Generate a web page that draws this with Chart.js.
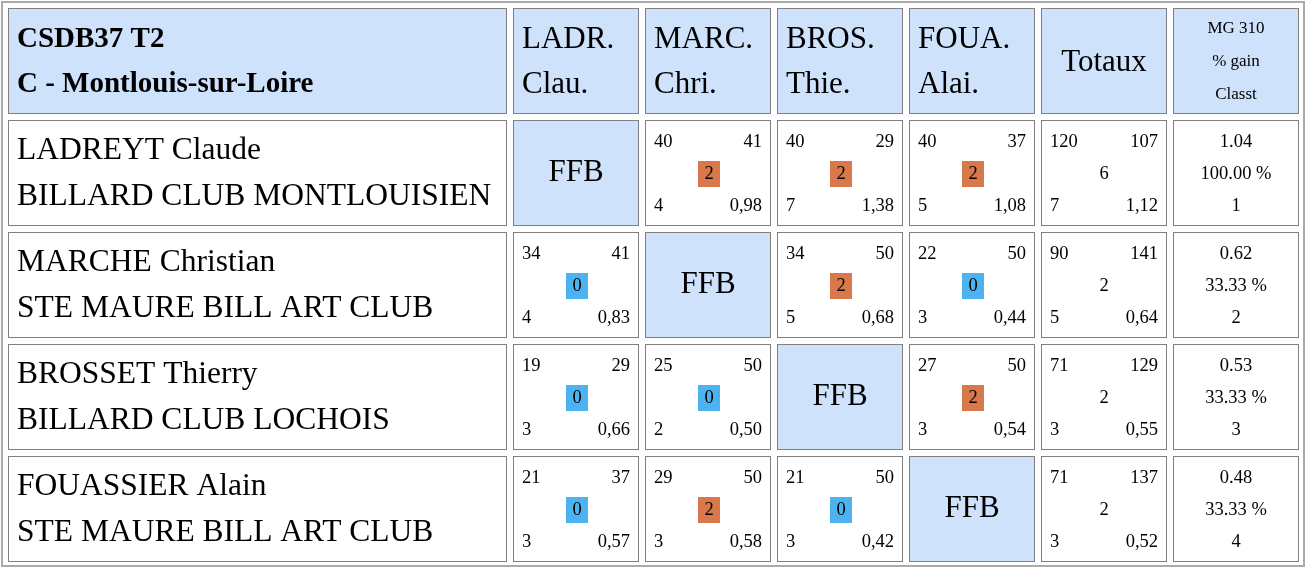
<!DOCTYPE html>
<html>
<head>
<meta charset="utf-8">
<script src="https://cdn.jsdelivr.net/npm/chart.js@4/dist/chart.umd.min.js"></script>
<style>
  body { margin: 0; background: #fff; }
  canvas { display: block; }
</style>
</head>
<body>
<canvas id="c" width="1306" height="570"></canvas>
<script>
const title = ['CSDB37 T2', 'C - Montlouis-sur-Loire'];
const colHeads = [['LADR.', 'Clau.'], ['MARC.', 'Chri.'], ['BROS.', 'Thie.'], ['FOUA.', 'Alai.']];
const players = ['LADREYT Claude', 'MARCHE Christian', 'BROSSET Thierry', 'FOUASSIER Alain'];
const clubs = ['BILLARD CLUB MONTLOUISIEN', 'STE MAURE BILL ART CLUB', 'BILLARD CLUB LOCHOIS', 'STE MAURE BILL ART CLUB'];
// [points, distance, reprises, moyenne, points match]; null = FFB
const results = [
  [null, [40, 41, 4, '0,98', 2], [40, 29, 7, '1,38', 2], [40, 37, 5, '1,08', 2]],
  [[34, 41, 4, '0,83', 0], null, [34, 50, 5, '0,68', 2], [22, 50, 3, '0,44', 0]],
  [[19, 29, 3, '0,66', 0], [25, 50, 2, '0,50', 0], null, [27, 50, 3, '0,54', 2]],
  [[21, 37, 3, '0,57', 0], [29, 50, 3, '0,58', 2], [21, 50, 3, '0,42', 0], null]
];
const totals = [[120, 107, 6, 7, '1,12'], [90, 141, 2, 5, '0,64'], [71, 129, 2, 3, '0,55'], [71, 137, 2, 3, '0,52']];
const mg = ['1.04', '0.62', '0.53', '0.48'];
const gain = ['100.00 %', '33.33 %', '33.33 %', '33.33 %'];
const rank = ['1', '2', '3', '4'];

const colEdges = [8, 513, 645, 777, 909, 1041, 1173];
const colW = [499, 126, 126, 126, 126, 126, 126];
const rowTop = [8, 120, 232, 344, 456];
const rowH = 106;
const HEAD = '#cfe2fb';
const SERIF = '"Liberation Serif", "DejaVu Serif", serif';
const BIG = 31, SMALL = 18.5;

const tablePlugin = {
  id: 'table',
  afterDraw(chart) {
    const ctx = chart.ctx;
    const sx = chart.scales.x, sy = chart.scales.y;
    const X = v => sx.getPixelForValue(v);
    const Y = v => sy.getPixelForValue(v);
    ctx.save();
    ctx.strokeStyle = '#aaa';
    ctx.lineWidth = 2;
    ctx.strokeRect(X(2), Y(2), X(1304) - X(2), Y(566) - Y(2));

    function cell(c, r, bg) {
      const x = X(colEdges[c]), y = Y(rowTop[r]);
      const w = X(colEdges[c] + colW[c]) - x, h = Y(rowTop[r] + rowH) - y;
      ctx.fillStyle = bg;
      ctx.fillRect(x, y, w, h);
      ctx.lineWidth = 1;
      ctx.strokeStyle = '#808080';
      ctx.strokeRect(x + 0.5, y + 0.5, w - 1, h - 1);
      return { x, y, w, h };
    }
    function text(s, x, y, size, align, bold) {
      ctx.font = (bold ? 'bold ' : '') + size + 'px ' + SERIF;
      ctx.textAlign = align;
      ctx.textBaseline = 'middle';
      ctx.fillStyle = '#000';
      ctx.fillText(s, x, y);
    }

    // header row
    let b = cell(0, 0, HEAD);
    text(title[0], b.x + 9, b.y + 32, 29, 'left', true);
    text(title[1], b.x + 9, b.y + 77, 29, 'left', true);
    colHeads.forEach((hd, i) => {
      const c = cell(i + 1, 0, HEAD);
      text(hd[0], c.x + 9, c.y + 32, BIG, 'left');
      text(hd[1], c.x + 9, c.y + 77, BIG, 'left');
    });
    b = cell(5, 0, HEAD);
    text('Totaux', b.x + b.w / 2, b.y + 55, BIG, 'center');
    b = cell(6, 0, HEAD);
    ['MG 310', '% gain', 'Classt'].forEach((s, k) => text(s, b.x + b.w / 2, b.y + 21 + k * 33, 17, 'center'));

    players.forEach((p, i) => {
      const r = i + 1;
      const c0 = cell(0, r, '#fff');
      text(p, c0.x + 9, c0.y + 31, 31.5, 'left');
      text(clubs[i], c0.x + 9, c0.y + 77, 31.5, 'left');
      results[i].forEach((res, j) => {
        if (!res) {
          const c = cell(j + 1, r, HEAD);
          text('FFB', c.x + c.w / 2, c.y + c.h / 2, BIG, 'center');
          return;
        }
        const c = cell(j + 1, r, '#fff');
        text(String(res[0]), c.x + 9, c.y + 22, SMALL, 'left');
        text(String(res[1]), c.x + c.w - 9, c.y + 22, SMALL, 'right');
        text(String(res[2]), c.x + 9, c.y + 86, SMALL, 'left');
        text(res[3], c.x + c.w - 9, c.y + 86, SMALL, 'right');
        ctx.fillStyle = res[4] > 0 ? '#d9784a' : '#4db3f0';
        ctx.fillRect(c.x + c.w / 2 - 10, c.y + 41, 22, 26);
        text(String(res[4]), c.x + c.w / 2 + 1, c.y + 54, SMALL, 'center');
      });
      const t = totals[i];
      const ct = cell(5, r, '#fff');
      text(String(t[0]), ct.x + 9, ct.y + 22, SMALL, 'left');
      text(String(t[1]), ct.x + ct.w - 9, ct.y + 22, SMALL, 'right');
      text(String(t[2]), ct.x + ct.w / 2, ct.y + 54, SMALL, 'center');
      text(String(t[3]), ct.x + 9, ct.y + 86, SMALL, 'left');
      text(t[4], ct.x + ct.w - 9, ct.y + 86, SMALL, 'right');
      const cm = cell(6, r, '#fff');
      [mg[i], gain[i], rank[i]].forEach((s, k) => text(s, cm.x + cm.w / 2, cm.y + 22 + k * 32, SMALL, 'center'));
    });
    ctx.restore();
  }
};

new Chart(document.getElementById('c'), {
  type: 'scatter',
  data: { datasets: [{ data: [] }] },
  options: {
    responsive: false,
    animation: false,
    layout: { padding: 0 },
    plugins: { legend: { display: false }, tooltip: { enabled: false } },
    scales: {
      x: { type: 'linear', min: 0, max: 1306, display: false },
      y: { type: 'linear', min: 0, max: 570, reverse: true, display: false }
    }
  },
  plugins: [tablePlugin]
});
</script>
</body>
</html>
